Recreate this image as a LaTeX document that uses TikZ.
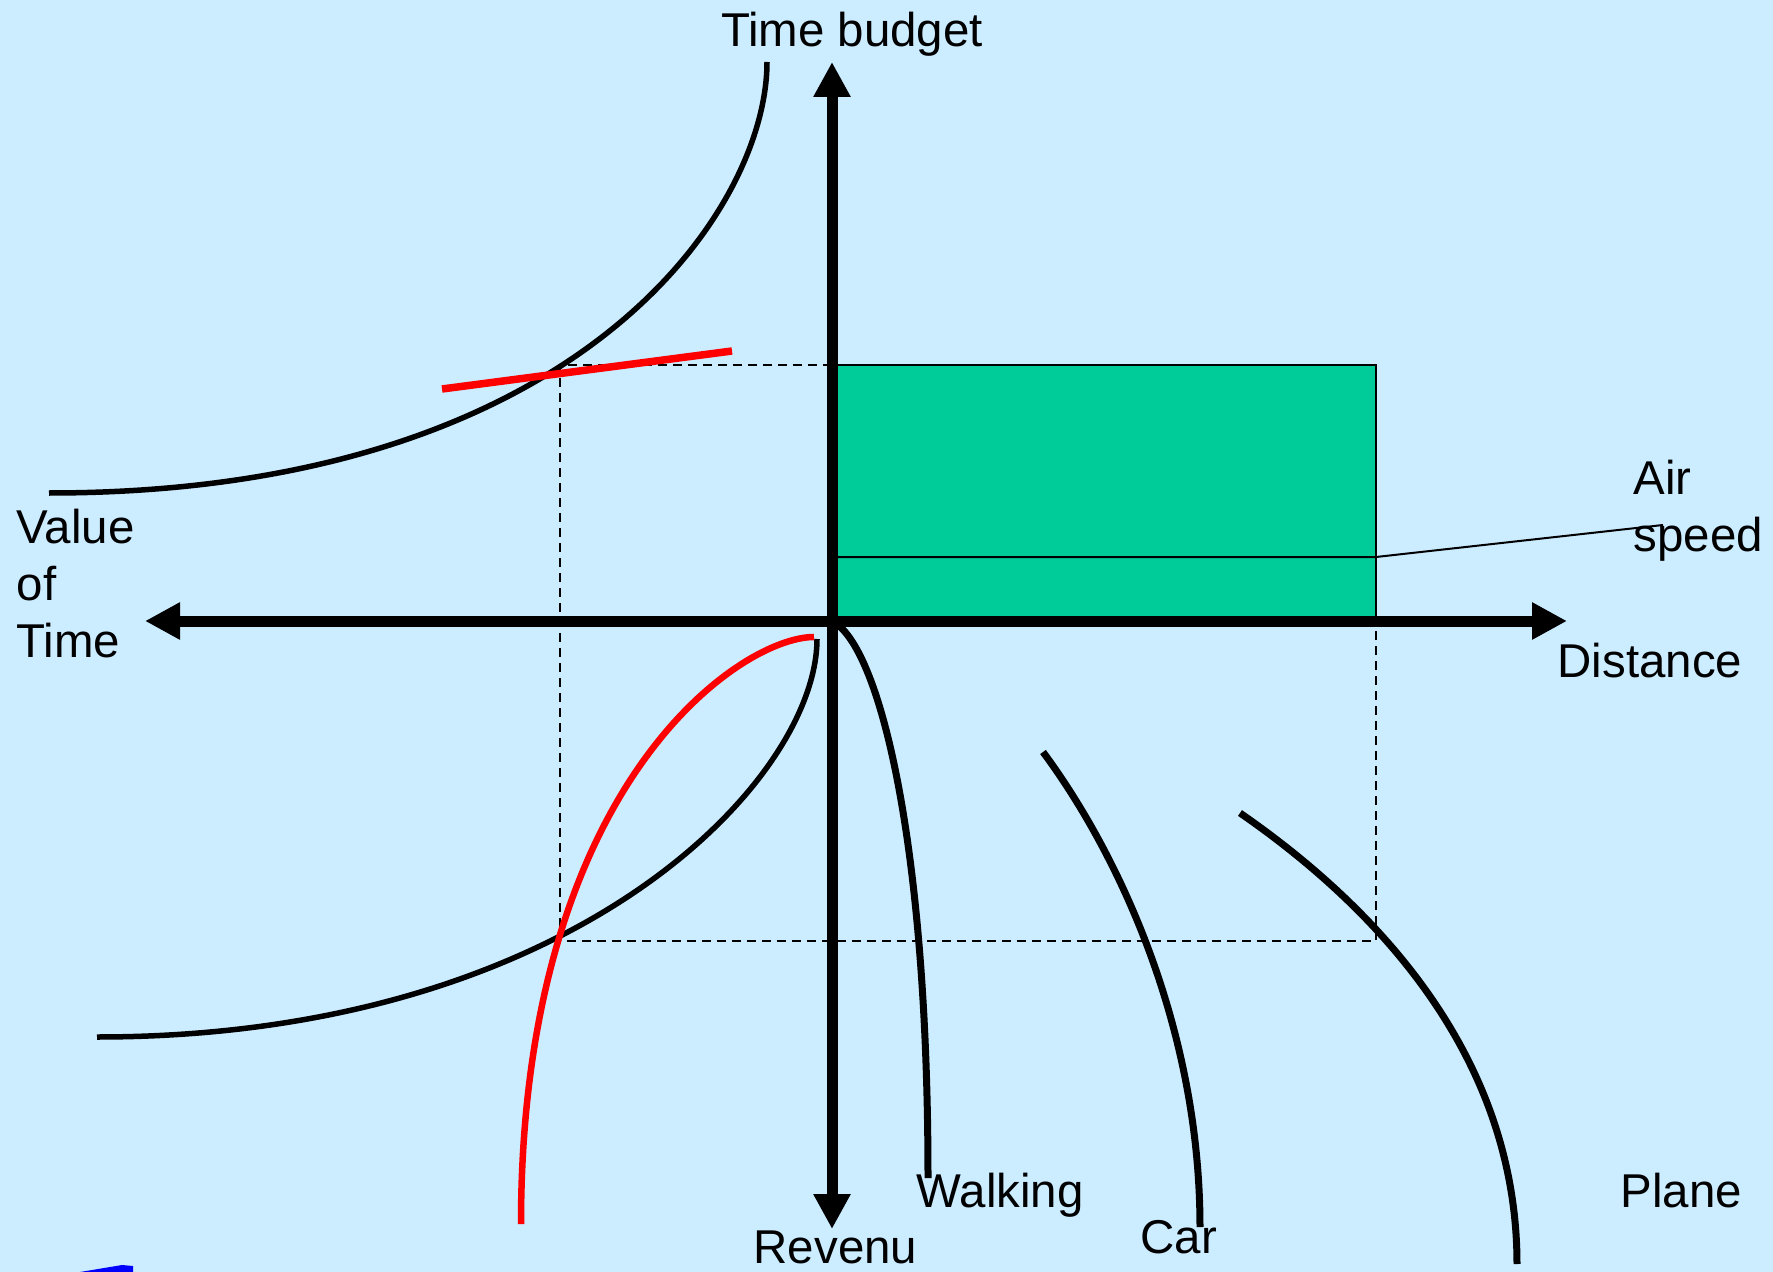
\documentclass[tikz,border=0pt]{standalone}
\usepackage{fontspec}
\setmainfont{Liberation Sans}
\usetikzlibrary{arrows.meta}
\definecolor{skyback}{RGB}{204,236,255}
\definecolor{budgetgreen}{RGB}{0,204,153}

\begin{document}
\begin{tikzpicture}[x=0.1mm, y=-0.1mm, font=\fontsize{13.5pt}{16.2pt}\selectfont,
  axis/.style={line width=1.1mm, {Triangle[length=3.5mm,width=3.5mm]}-{Triangle[length=3.5mm,width=3.5mm]}},
  guide/.style={line width=0.2mm, dash pattern=on 0.9mm off 0.6mm},
  modecurve/.style={line width=0.7mm},
  thincurve/.style={line width=0.55mm},
  redline/.style={red, line width=0.75mm},
  lbl/.style={inner sep=0, anchor=base west, align=left}]
% ---------- background and frame ----------
\useasboundingbox (0,0) rectangle (1773,1272);
\fill[skyback] (0,0) rectangle (1773,1272);
\coordinate (O) at (832,621);
\coordinate (W) at (145,621);
\coordinate (E) at (1567,621);
\coordinate (N) at (832,62);
\coordinate (S) at (832,1229);
% ---------- budget box ----------
\draw[fill=budgetgreen, line width=0.2mm] (O) rectangle (1376,365);
\coordinate (airL) at (832,557);
\coordinate (airR) at (1376,557);
\coordinate (airEnd) at (1663,525);
\draw[line width=0.2mm] (airL) -- (airR) -- (airEnd);
% projection lines
\draw[guide] (832,365) -- (560,365) -- (560,941) -- (1376,941) -- (1376,621);
% ---------- axes ----------
\draw[axis] (W) -- (E);
\draw[axis] (N) -- (S);
% ---------- curves ----------
\draw[thincurve] (49,493) .. controls (580,493) and (767,210) .. (767,62);
\draw[redline] (442,389) -- (732,351);
\draw[thincurve] (97,1037) .. controls (577,1037) and (817,779) .. (817,639);
\draw[redline, line width=0.65mm] (521,1224) .. controls (521,785) and (740,637) .. (814,637);
\draw[modecurve] (838,625) .. controls (882,660) and (928,850) .. (928,1178);
\draw[modecurve] (1043,752) .. controls (1118,853) and (1200,1027) .. (1200,1227);
\draw[modecurve] (1240,813) .. controls (1360,896) and (1517,1044) .. (1517,1264);
% small blue mark at the bottom edge
\fill[blue] (80,1272) -- (122,1265) -- (133,1266) -- (133,1272) -- cycle;
% ---------- labels ----------
\node[lbl, anchor=base] (budget) at (852,47) {Time budget};
\node[lbl] (value) at (16,657) {Value\\of\\Time};
\node[lbl] (air) at (1633,551) {Air\\speed};
\node[lbl] (distance) at (1557,677) {Distance};
\node[lbl] (revenu) at (753,1263) {Revenu};
\node[lbl] (walking) at (916,1207) {Walking};
\node[lbl] (car) at (1140,1253) {Car};
\node[lbl] (plane) at (1620,1207) {Plane};
\end{tikzpicture}
\end{document}
